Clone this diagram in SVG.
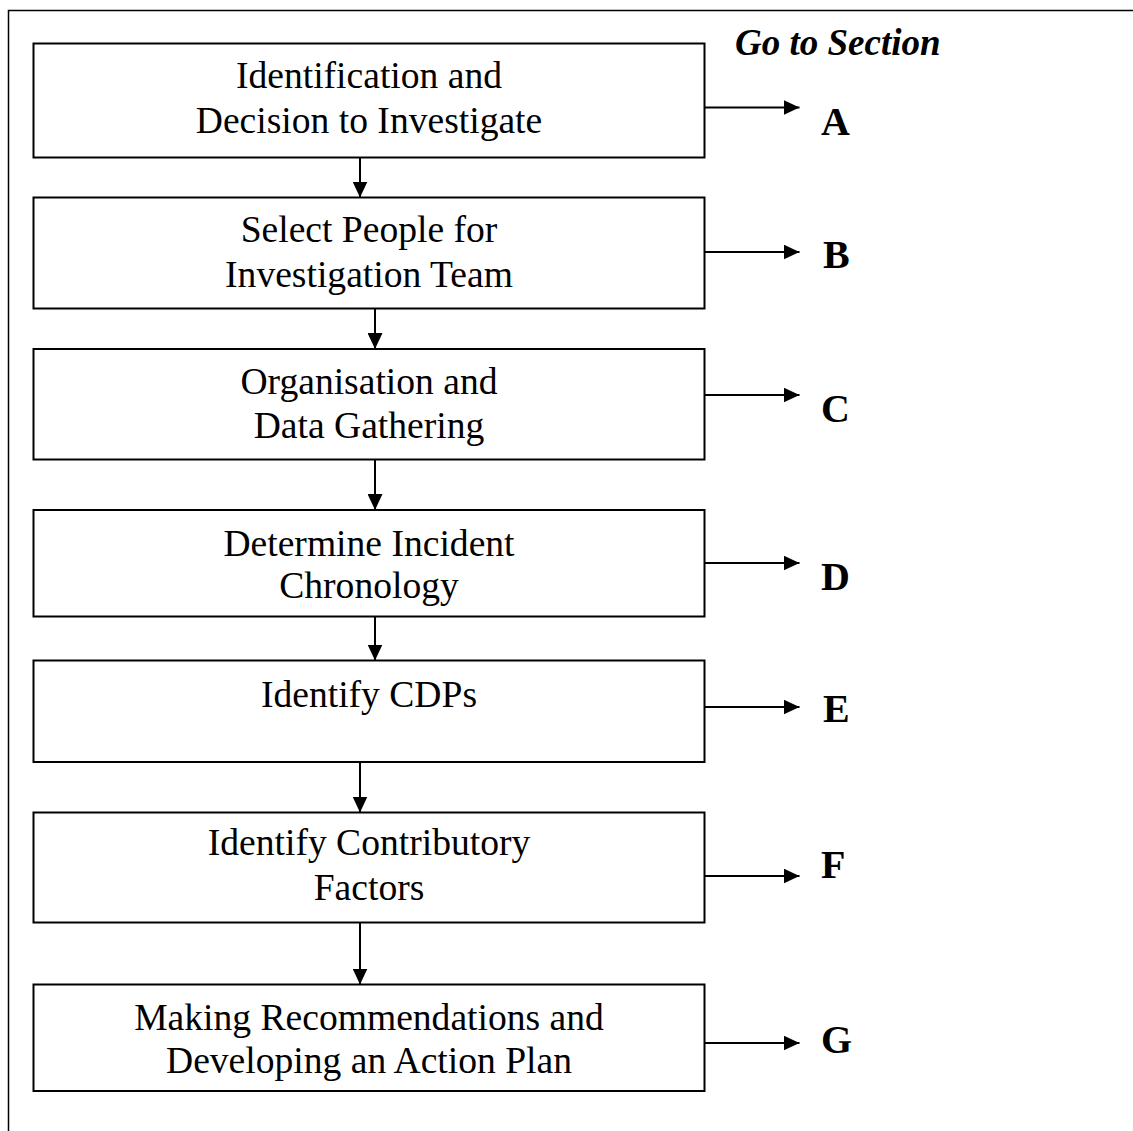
<svg xmlns="http://www.w3.org/2000/svg" width="1133" height="1131" viewBox="0 0 1133 1131">
<style>
.box{fill:#fff;stroke:#000;stroke-width:2}
.t{font-family:"Liberation Serif","Times New Roman",serif;font-size:37.6px;text-anchor:middle;fill:#000}
.l{font-family:"Liberation Serif","Times New Roman",serif;font-size:40px;font-weight:bold;fill:#000}
.h{font-family:"Liberation Serif","Times New Roman",serif;font-size:37px;font-weight:bold;font-style:italic;fill:#000}
.c{stroke:#000;stroke-width:2;fill:none}
</style>
<defs>
<marker id="ah" markerWidth="16" markerHeight="15" refX="16" refY="7.5" orient="auto" markerUnits="userSpaceOnUse">
<path d="M0,0 L16,7.5 L0,15 Z" fill="#000"/>
</marker>
</defs>
<rect width="1133" height="1131" fill="#fff"/>
<g id="frame"><path d="M8.5,1131 V10.5 H1133" stroke="#000" stroke-width="1.5" fill="none"/></g>
<text class="h" x="735" y="55">Go to Section</text>
<g id="n1"><rect class="box" x="33.5" y="43.5" width="671" height="114"/><text class="t" x="369" y="88">Identification and</text><text class="t" x="369" y="133">Decision to Investigate</text></g>
<g id="n2"><rect class="box" x="33.5" y="197.5" width="671" height="111"/><text class="t" x="369" y="242">Select People for</text><text class="t" x="369" y="287">Investigation Team</text></g>
<g id="n3"><rect class="box" x="33.5" y="349" width="671" height="110.5"/><text class="t" x="369" y="394">Organisation and</text><text class="t" x="369" y="438">Data Gathering</text></g>
<g id="n4"><rect class="box" x="33.5" y="510" width="671" height="106.5"/><text class="t" x="369" y="556">Determine Incident</text><text class="t" x="369" y="598">Chronology</text></g>
<g id="n5"><rect class="box" x="33.5" y="660.5" width="671" height="101.5"/><text class="t" x="369" y="707">Identify CDPs</text></g>
<g id="n6"><rect class="box" x="33.5" y="812.5" width="671" height="110"/><text class="t" x="369" y="855">Identify Contributory</text><text class="t" x="369" y="900">Factors</text></g>
<g id="n7"><rect class="box" x="33.5" y="984.5" width="671" height="106.5"/><text class="t" x="369" y="1030">Making Recommendations and</text><text class="t" x="369" y="1073">Developing an Action Plan</text></g>
<g id="labels">
<text class="l" x="821" y="135">A</text>
<text class="l" x="823" y="268">B</text>
<text class="l" x="821" y="422">C</text>
<text class="l" x="821" y="590">D</text>
<text class="l" x="823" y="722">E</text>
<text class="l" x="821" y="878">F</text>
<text class="l" x="821" y="1053">G</text>
</g>
<g id="connectors">
<line class="c" x1="360" y1="157.5" x2="360" y2="197.5" marker-end="url(#ah)"/>
<line class="c" x1="375" y1="308.5" x2="375" y2="349" marker-end="url(#ah)"/>
<line class="c" x1="375" y1="459.5" x2="375" y2="510" marker-end="url(#ah)"/>
<line class="c" x1="375" y1="616.5" x2="375" y2="660.5" marker-end="url(#ah)"/>
<line class="c" x1="360" y1="762" x2="360" y2="812.5" marker-end="url(#ah)"/>
<line class="c" x1="360" y1="922.5" x2="360" y2="984.5" marker-end="url(#ah)"/>
<line class="c" x1="704.5" y1="107.5" x2="799.5" y2="107.5" marker-end="url(#ah)"/>
<line class="c" x1="704.5" y1="252" x2="799.5" y2="252" marker-end="url(#ah)"/>
<line class="c" x1="704.5" y1="395" x2="799.5" y2="395" marker-end="url(#ah)"/>
<line class="c" x1="704.5" y1="563" x2="799.5" y2="563" marker-end="url(#ah)"/>
<line class="c" x1="704.5" y1="707" x2="799.5" y2="707" marker-end="url(#ah)"/>
<line class="c" x1="704.5" y1="876" x2="799.5" y2="876" marker-end="url(#ah)"/>
<line class="c" x1="704.5" y1="1043" x2="799.5" y2="1043" marker-end="url(#ah)"/>
</g>
</svg>
